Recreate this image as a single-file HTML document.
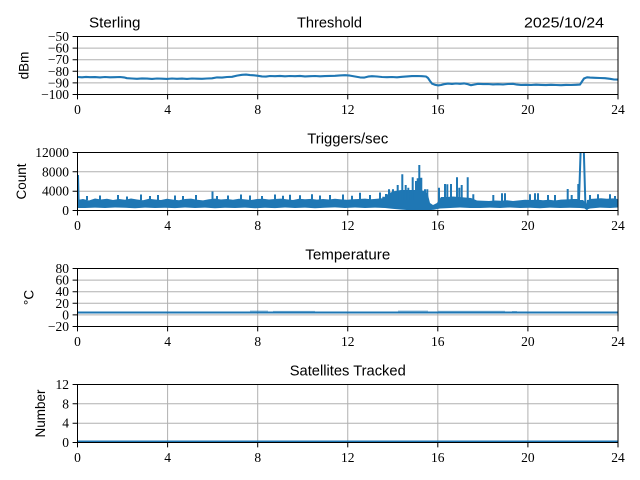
<!DOCTYPE html>
<html><head><meta charset="utf-8"><style>
html,body{margin:0;padding:0;background:#fff;}
svg{display:block;}
.tl{font-family:"Liberation Serif",serif;font-size:13.5px;fill:#000;}
.tt{font-family:"Liberation Sans",sans-serif;font-size:15px;fill:#000;}
.yl{font-family:"Liberation Sans",sans-serif;font-size:13.5px;fill:#000;}
</style></head><body>
<svg width="640" height="480" viewBox="0 0 640 480" xmlns="http://www.w3.org/2000/svg">
<defs>
<clipPath id="c1"><rect x="77.5" y="36.5" width="540.5" height="58"/></clipPath>
<clipPath id="c2"><rect x="77.5" y="152.5" width="540.5" height="58"/></clipPath>
<clipPath id="c3"><rect x="77.5" y="268.5" width="540.5" height="58"/></clipPath>
<clipPath id="c4"><rect x="77.5" y="384.5" width="540.5" height="58"/></clipPath>
</defs>
<rect width="640" height="480" fill="#fff"/>

<!-- grid lines -->
<g stroke="#b0b0b0" stroke-width="1" fill="none">
<path d="M167.6,36.5V94.5M257.7,36.5V94.5M347.75,36.5V94.5M437.8,36.5V94.5M527.9,36.5V94.5M77.5,48.1H618M77.5,59.7H618M77.5,71.3H618M77.5,82.9H618"/>
<path d="M167.6,152.5V210.5M257.7,152.5V210.5M347.75,152.5V210.5M437.8,152.5V210.5M527.9,152.5V210.5M77.5,171.8H618M77.5,191.2H618"/>
<path d="M167.6,268.5V326.5M257.7,268.5V326.5M347.75,268.5V326.5M437.8,268.5V326.5M527.9,268.5V326.5M77.5,280.1H618M77.5,291.7H618M77.5,303.3H618M77.5,314.9H618"/>
<path d="M167.6,384.5V442.5M257.7,384.5V442.5M347.75,384.5V442.5M437.8,384.5V442.5M527.9,384.5V442.5M77.5,403.8H618M77.5,423.2H618"/>
</g>

<!-- Panel 1 data -->
<g clip-path="url(#c1)">
<polyline fill="none" stroke="#1f77b4" stroke-width="2.1" stroke-linejoin="round" points="77.5,77.0 82,77.3 86,76.9 90,77.2 95,77.1 100,77.4 105,77.0 110,77.3 115,77.2 120,77.0 124,77.4 127,78.2 132,78.5 137,78.8 142,78.4 147,78.6 152,78.9 157,78.5 162,78.7 167,78.9 172,78.5 177,78.8 182,78.6 187,78.9 192,78.5 197,78.7 202,78.8 207,78.5 212,78.3 217,77.4 222,77.6 227,77.0 232,76.8 237,75.6 242,74.8 246,74.6 250,75.1 254,75.3 258,75.8 262,76.4 266,76.6 270,76.0 275,76.2 280,75.9 285,76.3 290,76.0 295,76.2 300,75.9 305,76.4 310,76.2 315,76.0 320,76.3 325,76.1 330,75.9 335,75.8 340,75.4 345,75.2 350,75.6 355,76.5 360,77.4 364,77.6 368,76.6 372,76.2 377,76.5 382,77.0 387,77.2 392,77.0 397,77.3 402,76.8 407,76.4 412,76.1 417,76.0 422,76.2 426,76.5 428,78.0 430,81 432,83.6 435,84.8 438,85.4 441,85.0 444,84.2 448,83.6 452,83.9 456,83.5 460,83.8 464,83.4 468,84.2 471,85.2 474,84.6 478,83.8 483,84.1 488,84.0 493,84.4 498,84.2 503,84.5 508,84.0 513,83.8 517,84.6 521,84.9 526,84.8 531,85.0 536,84.7 541,84.9 546,85.1 551,84.8 556,85.0 561,85.2 566,84.9 571,85.0 576,84.8 580,84.6 582,81.5 584,78.5 587,77.3 590,77.6 595,77.8 600,78.0 605,78.2 610,78.8 614,79.5 618,79.6"/>
</g>

<!-- Panel 2 data -->
<g clip-path="url(#c2)">
<polygon fill="#1f77b4" points="77.5,200 83,199 89,200.5 95,198.5 101,199.5 107,198.8 113,200 119,199 125,199.8 131,198.5 137,199.5 143,200.2 149,198.7 155,199.5 161,200 167,198.8 173,199.6 179,200.3 185,199 191,198.6 197,199.8 203,200.4 209,199.2 215,198.6 221,199.5 227,199 233,199.8 239,198.7 245,199.4 251,200 257,199 263,198.7 269,199.5 275,199 281,198.6 287,199.4 293,200 299,198.8 305,199.3 311,198.9 317,199.6 323,199.0 329,199.5 335,198.8 341,199.4 347,199.8 353,199.2 359,199.0 365,198.6 371,199.2 377,198.8 383,198.2 389,193 395,191 401,190 407,190 413,190 419,190 425,191 428,195 430,203 433,205 437,203 441,197 447,197 453,196.5 459,197 465,197.5 471,198 477,200.5 483,200.8 489,201 495,200.5 501,200.8 507,200.2 513,201 519,200.4 525,199.8 531,200 537,199.6 543,200.2 549,199.8 555,200.5 561,199.6 567,199.4 573,199 577,199 579,200 583,200 587,204 589,199 595,198.6 601,198.2 607,198.8 613,198.4 618,199 618,207.5 610,208 600,207.6 590,208.5 587,209.5 585,208.5 580,208 570,207.8 560,208 550,207.6 540,208.2 530,207.7 520,208 510,207.5 500,208 490,207.6 480,208 470,208 460,207.5 450,208 440,208.5 434,209.8 428,210.2 420,210.3 410,210.2 400,209.5 392,208.8 385,208 375,207.6 365,208 355,207.5 345,208 335,207.4 325,207.8 315,208.2 305,207.6 295,208 285,207.5 275,208.1 265,207.7 255,208.2 245,207.6 235,208 225,207.7 215,208.2 205,207.6 195,208 185,207.5 175,208.1 165,207.7 155,208 145,207.6 135,208.2 125,207.8 115,207.5 105,208 95,207.6 85,208 77.5,208"/>
<path fill="none" stroke="#1f77b4" stroke-width="2" stroke-linejoin="round" d="M78,175L78.6,201
M87,196V200M100,195.5V200M118,195V200M127,196.5V200M141,194.5V200M150,196V200M158,195V200M175,195.5V200M183,196V200M196,195V200M212.5,191.5V200M217,196V200M228,195.5V200M241,194.5V200M250,195.5V200M262,196V200M275,194.5V200M283,195.7V200M290,194.8V200M300,195.2V200M312,194.2V200M320,195.5V200M330,195V200M343,194.5V200M352,195.7V200M360,192.7V200M370,195V200M380,192.5V200M383.3,196.7V200M386,194V200
M389,189.3V200M393,189.3V200M397.7,185V200M402.3,174.3V200M405.7,185V200M408.3,187.7V200M412.7,177.3V200M416,181V200M417.7,178.3V200M419.3,165V200M421.3,177.7V200M425,189.3V200M427.3,189.3V200
M439,187.7V203M445,184V200M447.3,184.3V200M451,184V200M457,177.3V200M459.3,187.7V200M461.7,185V200M467.7,177.3V200M473.3,194.3V200M493.3,195V203
M502,193.3V203M505,193.3V203M530,194.3V203M535,193.3V203M538,193.3V203M548,195V203M555,195V203M567.7,189V203M571.7,195V203M578.3,184V203
M579,200L581,140L583.5,140L585.5,208L587,209L588,200
M590,195V203M598,194.3V203M610,194.3V203M615,196V203"/>
</g>

<!-- Panel 3 data -->
<g clip-path="url(#c3)">
<path stroke="#1f77b4" stroke-opacity="0.45" stroke-width="1.5" fill="none" d="M250,311.3H268M273,311.6H315M398,311.3H428M438,311.5H505M512,311.8H517"/>
<path stroke="#1f77b4" stroke-width="2.1" fill="none" d="M77.5,312.5H618"/>
</g>

<!-- Panel 4 data -->
<g clip-path="url(#c4)">
<path stroke="#1f77b4" stroke-width="2.1" fill="none" d="M77.5,441.6H618"/>
</g>

<!-- spines -->
<g stroke="#000" stroke-width="1" fill="none">
<rect x="77.5" y="36.5" width="540.5" height="58"/>
<rect x="77.5" y="152.5" width="540.5" height="58"/>
<rect x="77.5" y="268.5" width="540.5" height="58"/>
<rect x="77.5" y="384.5" width="540.5" height="58"/>
</g>

<!-- ticks -->
<g stroke="#000" stroke-width="1" fill="none">
<path d="M77.5,94.5v4.9M167.6,94.5v4.9M257.7,94.5v4.9M347.75,94.5v4.9M437.8,94.5v4.9M527.9,94.5v4.9M618,94.5v4.9
M77.5,210.5v4.9M167.6,210.5v4.9M257.7,210.5v4.9M347.75,210.5v4.9M437.8,210.5v4.9M527.9,210.5v4.9M618,210.5v4.9
M77.5,326.5v4.9M167.6,326.5v4.9M257.7,326.5v4.9M347.75,326.5v4.9M437.8,326.5v4.9M527.9,326.5v4.9M618,326.5v4.9
M77.5,442.5v4.9M167.6,442.5v4.9M257.7,442.5v4.9M347.75,442.5v4.9M437.8,442.5v4.9M527.9,442.5v4.9M618,442.5v4.9"/>
<path d="M72.6,36.5h4.9M72.6,48.1h4.9M72.6,59.7h4.9M72.6,71.3h4.9M72.6,82.9h4.9M72.6,94.5h4.9
M72.6,152.5h4.9M72.6,171.8h4.9M72.6,191.2h4.9M72.6,210.5h4.9
M72.6,268.5h4.9M72.6,280.1h4.9M72.6,291.7h4.9M72.6,303.3h4.9M72.6,314.9h4.9M72.6,326.5h4.9
M72.6,384.5h4.9M72.6,403.8h4.9M72.6,423.2h4.9M72.6,442.5h4.9"/>
</g>

<!-- x tick labels -->
<g class="tl" text-anchor="middle">
<text x="77.5" y="114">0</text><text x="167.6" y="114">4</text><text x="257.7" y="114">8</text><text x="347.75" y="114">12</text><text x="437.8" y="114">16</text><text x="527.9" y="114">20</text><text x="618" y="114">24</text>
<text x="77.5" y="230">0</text><text x="167.6" y="230">4</text><text x="257.7" y="230">8</text><text x="347.75" y="230">12</text><text x="437.8" y="230">16</text><text x="527.9" y="230">20</text><text x="618" y="230">24</text>
<text x="77.5" y="346">0</text><text x="167.6" y="346">4</text><text x="257.7" y="346">8</text><text x="347.75" y="346">12</text><text x="437.8" y="346">16</text><text x="527.9" y="346">20</text><text x="618" y="346">24</text>
<text x="77.5" y="462">0</text><text x="167.6" y="462">4</text><text x="257.7" y="462">8</text><text x="347.75" y="462">12</text><text x="437.8" y="462">16</text><text x="527.9" y="462">20</text><text x="618" y="462">24</text>
</g>

<!-- y tick labels -->
<g class="tl" text-anchor="end">
<text x="69" y="41">−50</text><text x="69" y="52.6">−60</text><text x="69" y="64.2">−70</text><text x="69" y="75.8">−80</text><text x="69" y="87.4">−90</text><text x="69" y="99">−100</text>
<text x="69" y="157">12000</text><text x="69" y="176.3">8000</text><text x="69" y="195.7">4000</text><text x="69" y="215">0</text>
<text x="69" y="273">80</text><text x="69" y="284.6">60</text><text x="69" y="296.2">40</text><text x="69" y="307.8">20</text><text x="69" y="319.4">0</text><text x="69" y="331">−20</text>
<text x="69" y="389">12</text><text x="69" y="408.3">8</text><text x="69" y="427.7">4</text><text x="69" y="447">0</text>
</g>

<!-- y axis labels -->
<g class="yl" text-anchor="middle">
<text transform="translate(28.3,65.5) rotate(-90)">dBm</text>
<text transform="translate(26,181.5) rotate(-90)">Count</text>
<text transform="translate(33.3,297.5) rotate(-90)">°C</text>
<text transform="translate(45,413.5) rotate(-90)">Number</text>
</g>

<!-- titles -->
<g class="tt">
<text x="89" y="27.5" textLength="51.5" lengthAdjust="spacingAndGlyphs">Sterling</text>
<text x="329.5" y="27.5" text-anchor="middle" textLength="65" lengthAdjust="spacingAndGlyphs">Threshold</text>
<text x="604" y="27.5" text-anchor="end" textLength="80" lengthAdjust="spacingAndGlyphs">2025/10/24</text>
<text x="347.75" y="143.5" text-anchor="middle" textLength="81" lengthAdjust="spacingAndGlyphs">Triggers/sec</text>
<text x="347.75" y="259.5" text-anchor="middle" textLength="85" lengthAdjust="spacingAndGlyphs">Temperature</text>
<text x="347.75" y="375.5" text-anchor="middle" textLength="116" lengthAdjust="spacingAndGlyphs">Satellites Tracked</text>
</g>
</svg>
</body></html>
